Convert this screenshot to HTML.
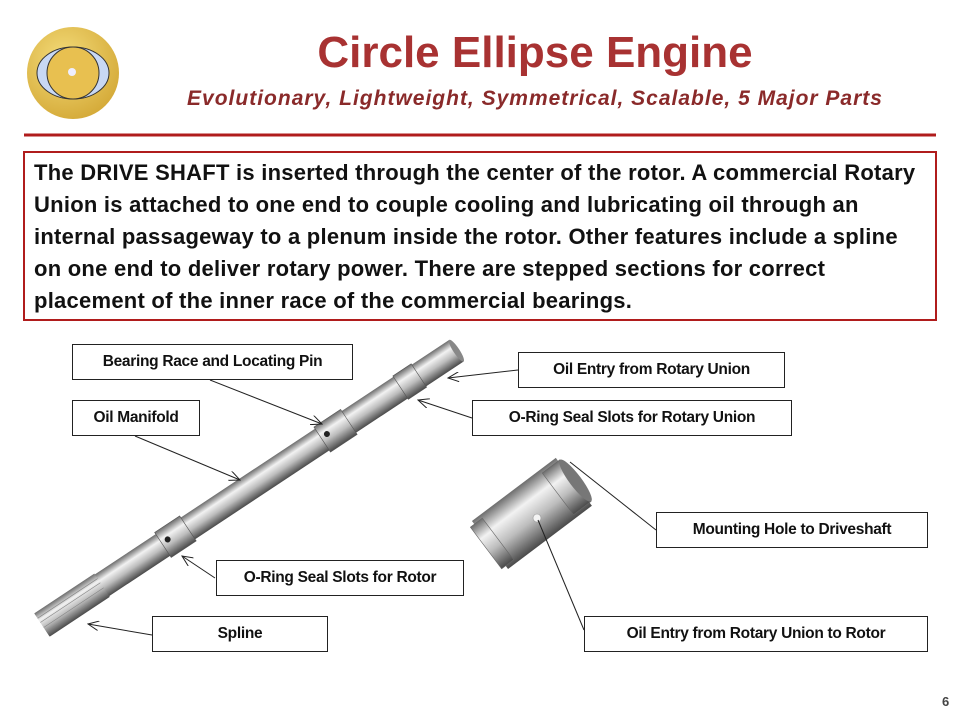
<!DOCTYPE html>
<html><head><meta charset="utf-8"><style>
body{margin:0;width:960px;height:720px;background:#fff;position:relative;overflow:hidden;font-family:"Liberation Sans",sans-serif}
.t{position:absolute;left:0;width:960px;text-align:center;white-space:nowrap}
.box{position:absolute;border:1px solid #222;background:#fff;font-weight:bold;font-size:15.5px;color:#111;display:flex;align-items:center;justify-content:center;box-sizing:border-box;white-space:nowrap;letter-spacing:-0.3px}
.bl{white-space:nowrap;height:32px;line-height:32px}
</style></head><body>
<svg width="960" height="720" style="position:absolute;left:0;top:0">
<defs>
<radialGradient id="gold" cx="0.4" cy="0.35" r="0.7"><stop offset="0" stop-color="#f4dc7a"/><stop offset="1" stop-color="#d4a937"/></radialGradient>
<linearGradient id="metal" x1="0" y1="0" x2="0" y2="1"><stop offset="0" stop-color="#6d6d6d"/><stop offset="0.3" stop-color="#f2f2f2"/><stop offset="0.6" stop-color="#bdbdbd"/><stop offset="1" stop-color="#4a4a4a"/></linearGradient>
<marker id="a" markerWidth="12" markerHeight="10" refX="11" refY="5" orient="auto" markerUnits="userSpaceOnUse"><path d="M0,0 L11,5 L0,10" fill="none" stroke="#222" stroke-width="1"/></marker>
</defs>
<circle cx="73" cy="73" r="46" fill="url(#gold)"/>
<ellipse cx="73" cy="73" rx="36" ry="26" fill="#c8d8f4" stroke="#333" stroke-width="1"/>
<circle cx="73" cy="73" r="26" fill="#e8c050" stroke="#333" stroke-width="1"/>
<circle cx="72" cy="72" r="4" fill="#eef"/>
<line x1="24" y1="135" x2="936" y2="135" stroke="#b01c1c" stroke-width="3"/>
<rect x="24" y="152" width="912" height="168" fill="none" stroke="#b01c1c" stroke-width="2"/>
<g transform="translate(42,625) rotate(-33.5)">
<rect x="0" y="-13" width="497" height="26" fill="url(#metal)"/>
<rect x="0" y="-14" width="72" height="28" fill="url(#metal)"/>
<g stroke="#888" stroke-width="0.7"><line x1="0" y1="-8" x2="72" y2="-8"/><line x1="0" y1="-3" x2="72" y2="-3"/><line x1="0" y1="3" x2="72" y2="3"/><line x1="0" y1="8" x2="72" y2="8"/></g>
<rect x="145" y="-15" width="30" height="30" fill="url(#metal)" stroke="#555" stroke-width="0.6"/>
<circle cx="152" cy="-2" r="3" fill="#222"/>
<rect x="336" y="-15" width="32" height="30" fill="url(#metal)" stroke="#555" stroke-width="0.6"/>
<circle cx="343" cy="-2" r="3" fill="#222"/>
<rect x="430" y="-14" width="22" height="28" fill="url(#metal)" stroke="#555" stroke-width="0.6"/>
<ellipse cx="497" cy="0" rx="3" ry="13" fill="#888"/>
</g>
<g transform="translate(490,545) rotate(-37)">
<rect x="0" y="-30" width="105" height="60" fill="url(#metal)"/>
<rect x="-5" y="-26" width="15" height="52" fill="url(#metal)" stroke="#666" stroke-width="0.6"/>
<rect x="85" y="-26" width="22" height="52" fill="url(#metal)" stroke="#666" stroke-width="0.6"/>
<ellipse cx="107" cy="0" rx="6" ry="26" fill="#777"/>
</g>
<circle cx="537" cy="518" r="4" fill="#f4f4f4" stroke="#999" stroke-width="0.6"/>
<g stroke="#222" stroke-width="1" marker-end="url(#a)">
<line x1="210" y1="380" x2="322" y2="424"/>
<line x1="135" y1="436" x2="240" y2="480"/>
<line x1="215" y1="578" x2="182" y2="556"/>
<line x1="152" y1="635" x2="88" y2="624"/>
<line x1="518" y1="370" x2="448" y2="378"/>
<line x1="472" y1="418" x2="418" y2="400"/>
</g>
<g stroke="#222" stroke-width="1">
<line x1="656" y1="530" x2="570" y2="462"/>
<line x1="584" y1="630" x2="538" y2="520"/>
</g>
</svg>
<div class="t" style="top:28px;font-size:44px;font-weight:bold;color:#a83232;padding-left:110px;box-sizing:border-box">Circle Ellipse Engine</div>
<div class="t" style="top:87px;font-size:21px;font-weight:bold;font-style:italic;color:#8a2a2a;padding-left:110px;box-sizing:border-box;letter-spacing:1px">Evolutionary, Lightweight, Symmetrical, Scalable, 5 Major Parts</div>
<div style="position:absolute;left:34px;top:157px;font-size:22px;font-weight:bold;color:#111;letter-spacing:0.25px">
<div class="bl">The DRIVE SHAFT is inserted through the center of the rotor. A commercial Rotary</div>
<div class="bl">Union is attached to one end to couple cooling and lubricating oil through an</div>
<div class="bl">internal passageway to a plenum inside the rotor. Other features include a spline</div>
<div class="bl">on one end to deliver rotary power. There are stepped sections for correct</div>
<div class="bl">placement of the inner race of the commercial bearings.</div>
</div>
<div class="box" style="left:72px;top:344px;width:281px;height:36px">Bearing Race and Locating Pin</div>
<div class="box" style="left:72px;top:400px;width:128px;height:36px">Oil Manifold</div>
<div class="box" style="left:216px;top:560px;width:248px;height:36px">O-Ring Seal Slots for Rotor</div>
<div class="box" style="left:152px;top:616px;width:176px;height:36px">Spline</div>
<div class="box" style="left:518px;top:352px;width:267px;height:36px">Oil Entry from Rotary Union</div>
<div class="box" style="left:472px;top:400px;width:320px;height:36px">O-Ring Seal Slots for Rotary Union</div>
<div class="box" style="left:656px;top:512px;width:272px;height:36px">Mounting Hole to Driveshaft</div>
<div class="box" style="left:584px;top:616px;width:344px;height:36px">Oil Entry from Rotary Union to Rotor</div>
<div style="position:absolute;left:942px;top:694px;font-size:13px;font-weight:bold;color:#444">6</div>
</body></html>
